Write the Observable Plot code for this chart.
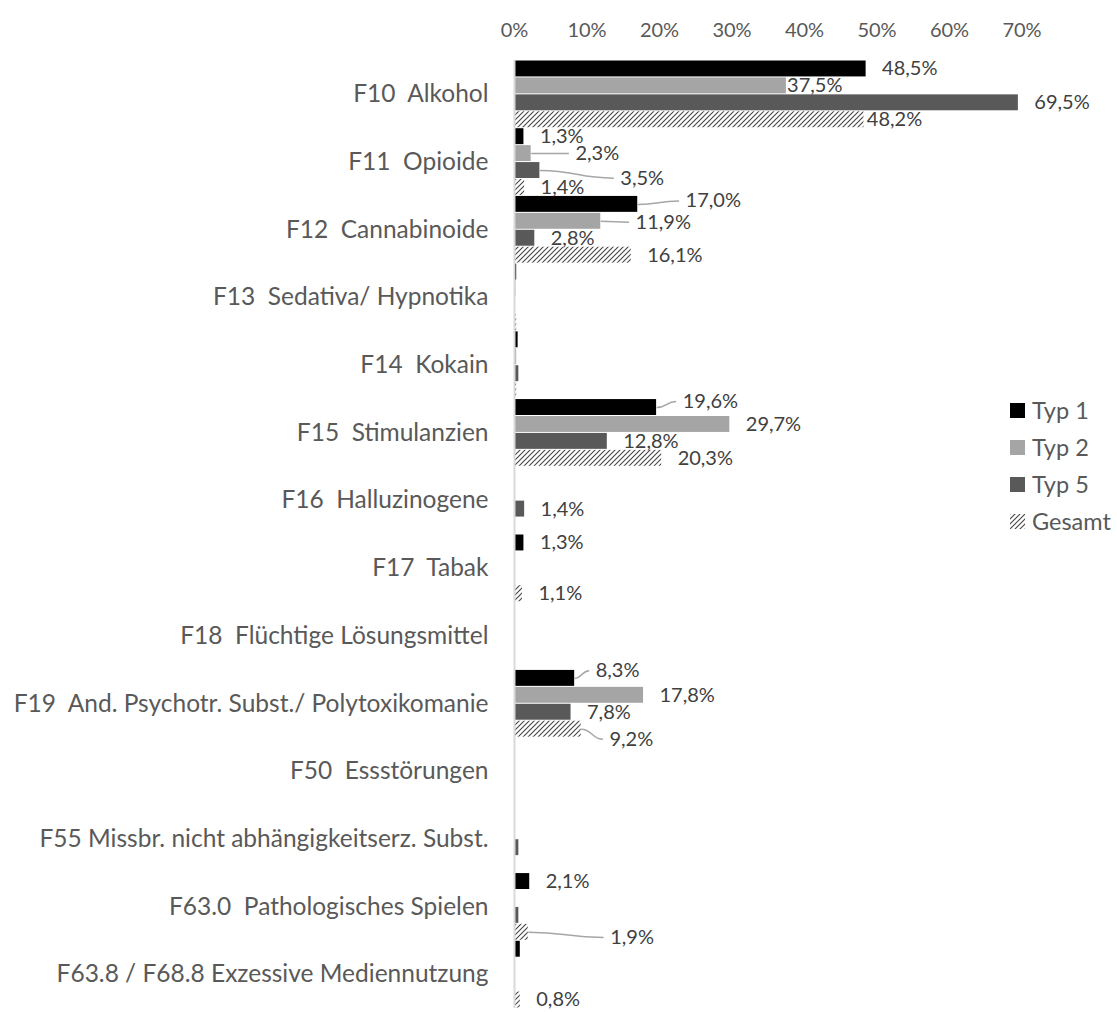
<!DOCTYPE html>
<html>
<head>
<meta charset="utf-8">
<script src="https://cdn.jsdelivr.net/npm/d3@7"></script>
<script src="https://cdn.jsdelivr.net/npm/@observablehq/plot@0.6"></script>
<style>
  body { margin: 0; background: #fff; }
  #wrap { position: relative; width: 1117px; height: 1012px; overflow: hidden; background: #fff; font-family: Lato, sans-serif; }
  #wrap svg text { white-space: pre; }
  .layer { position: absolute; left: 0; top: 0; }
  .legend-item { position: absolute; left: 1010px; height: 28px; line-height: 28px; font-size: 23.5px; color: #595959; white-space: nowrap; }
  .legend-item svg { position: absolute; left: 0; top: 6.5px; }
  .legend-item span { position: absolute; left: 22px; top: 0; }
</style>
</head>
<body>
<div id="wrap"></div>
<script>
// ---- data ----
const categories = [
  "F10  Alkohol",
  "F11  Opioide",
  "F12  Cannabinoide",
  "F13  Sedativa/ Hypnotika",
  "F14  Kokain",
  "F15  Stimulanzien",
  "F16  Halluzinogene",
  "F17  Tabak",
  "F18  Flüchtige Lösungsmittel",
  "F19  And. Psychotr. Subst./ Polytoxikomanie",
  "F50  Essstörungen",
  "F55 Missbr. nicht abhängigkeitserz. Subst.",
  "F63.0  Pathologisches Spielen",
  "F63.8 / F68.8 Exzessive Mediennutzung"
];
const seriesNames = ["Typ 1", "Typ 2", "Typ 5", "Gesamt"];
const typ1   = [48.5, 1.3, 17.0, 0.3, 0.5, 19.6, 0,   1.3, 0, 8.3,  0, 0,   2.1, 0.8];
const typ2   = [37.5, 2.3, 11.9, 0.2, 0.3, 29.7, 0,   0,   0, 17.8, 0, 0,   0,   0];
const typ5   = [69.5, 3.5, 2.8,  0,   0.6, 12.8, 1.4, 0,   0, 7.8,  0, 0.6, 0.6, 0];
const gesamt = [48.2, 1.4, 16.1, 0.3, 0.3, 20.3, 0,   1.1, 0, 9.2,  0, 0,   1.9, 0.8];
const tickLabels = [0, 10, 20, 30, 40, 50, 60, 70];

// which bars carry a data label (category index, series)
const labeledBars = [
  [0, "Typ 1"], [0, "Typ 2"], [0, "Typ 5"], [0, "Gesamt"],
  [1, "Typ 1"], [1, "Typ 2"], [1, "Typ 5"], [1, "Gesamt"],
  [2, "Typ 1"], [2, "Typ 2"], [2, "Typ 5"], [2, "Gesamt"],
  [5, "Typ 1"], [5, "Typ 2"], [5, "Typ 5"], [5, "Gesamt"],
  [6, "Typ 5"],
  [7, "Typ 1"], [7, "Gesamt"],
  [9, "Typ 1"], [9, "Typ 2"], [9, "Typ 5"], [9, "Gesamt"],
  [12, "Typ 1"], [12, "Gesamt"],
  [13, "Gesamt"]
];

// ---- layout / style (kept apart from the data) ----
const seriesColors = ["#000000", "#a5a5a5", "#595959", "url(#hatch)"];
// label placement overrides, Excel-like: key -> {at: label start in % units, nudge: bar slots, leader}
const labelMoves = {
  "0|Typ 2":  {at: 37.6, nudge: 0},
  "0|Gesamt": {at: 48.6, nudge: 0},
  "1|Typ 2":  {at: 8.4,  nudge: 0,     leader: true},
  "1|Typ 5":  {at: 14.6, nudge: 0.45,  leader: true},
  "2|Typ 1":  {at: 23.6, nudge: -0.2,  leader: true},
  "2|Typ 2":  {at: 16.7, nudge: 0.05,  leader: true},
  "5|Typ 1":  {at: 23.2, nudge: -0.35, leader: true},
  "9|Typ 1":  {at: 11.2, nudge: -0.45, leader: true},
  "9|Gesamt": {at: 13.1, nudge: 0.6,   leader: true},
  "12|Gesamt":{at: 13.2, nudge: 0.3,   leader: true}
};
const labelGap = 2.2;
const W = 1117, H = 1012, PLOT_LEFT = 514, PLOT_RIGHT_MARGIN = 95.5, TOP = 60;
const FONT = "Lato, sans-serif";
const FS_NUM = 20;   // numbers (ticks, data labels)
const FS_CAT = 24.5; // category names

// ---- build tables ----
const seriesValues = {"Typ 1": typ1, "Typ 2": typ2, "Typ 5": typ5, "Gesamt": gesamt};
const rows = [];
categories.forEach((c, i) => seriesNames.forEach((s, j) => {
  rows.push({category: c, ci: i, series: s, value: seriesValues[s][i], slot: i * 4 + j});
}));
const fmt = v => v.toFixed(1).replace(".", ",") + "%";
const labels = labeledBars.map(([i, s]) => {
  const r = rows.find(d => d.ci === i && d.series === s);
  const m = labelMoves[i + "|" + s] || {};
  return {
    ...r,
    text: fmt(r.value),
    lx: m.at != null ? m.at : r.value + labelGap,
    ly: r.slot + 0.5 + (m.nudge || 0),
    leader: !!m.leader
  };
});
const leaders = labels.filter(d => d.leader);

const chart = Plot.plot({
  width: W, height: H,
  marginLeft: PLOT_LEFT, marginRight: PLOT_RIGHT_MARGIN, marginTop: TOP, marginBottom: 4,
  style: {fontFamily: FONT, fontSize: FS_NUM + "px", color: "#595959", background: "transparent", overflow: "visible"},
  x: {domain: [0, 70]},
  y: {domain: [56, 0]},
  color: {domain: seriesNames, range: seriesColors},
  marks: [
    Plot.rect(rows, {x1: d => 0, x2: "value", y1: "slot", y2: d => d.slot + 1, fill: "series", insetTop: 0.5, insetBottom: 0.5}),
    Plot.ruleX([0], {stroke: "#d9d9d9", strokeWidth: 2}),
    Plot.link(leaders, {x1: "value", y1: d => d.slot + 0.5, x2: d => d.lx - 0.9, y2: "ly", stroke: "#a6a6a6", strokeWidth: 1.5, curve: "bump-x"}),
    Plot.text(labels, {x: "lx", y: "ly", text: "text", textAnchor: "start", fill: "#404040", fontSize: FS_NUM}),
    Plot.axisX({anchor: "top", ticks: tickLabels, tickSize: 0, tickPadding: 24, tickFormat: d => d + "%", fontSize: FS_NUM, label: null}),
    Plot.axisY({ticks: categories.map((_, i) => i * 4 + 2), tickFormat: v => categories[Math.round((v - 2) / 4)], tickSize: 0, tickPadding: 26, fontSize: FS_CAT, label: null})
  ]
});

const wrap = document.getElementById("wrap");
chart.classList.add("layer");
wrap.appendChild(chart);

// hatch pattern definition
const svg = d3.select(chart);
const defs = svg.insert("defs", ":first-child");
const pat = defs.append("pattern").attr("id", "hatch").attr("patternUnits", "userSpaceOnUse").attr("width", 5).attr("height", 5);
pat.append("rect").attr("width", 5).attr("height", 5).attr("fill", "#fff");
pat.append("path").attr("d", "M-1,1L1,-1M0,5L5,0M4,6L6,4").attr("stroke", "#444").attr("stroke-width", 1.1);

// legend
const legendCenters = [410, 447, 484, 521];
seriesNames.forEach((s, j) => {
  const item = document.createElement("div");
  item.className = "legend-item";
  item.style.top = (legendCenters[j] - 14) + "px";
  item.innerHTML = `<svg width="15" height="15"><rect width="15" height="15" fill="${seriesColors[j]}"></rect></svg><span>${s}</span>`;
  wrap.appendChild(item);
});
</script>
</body>
</html>
